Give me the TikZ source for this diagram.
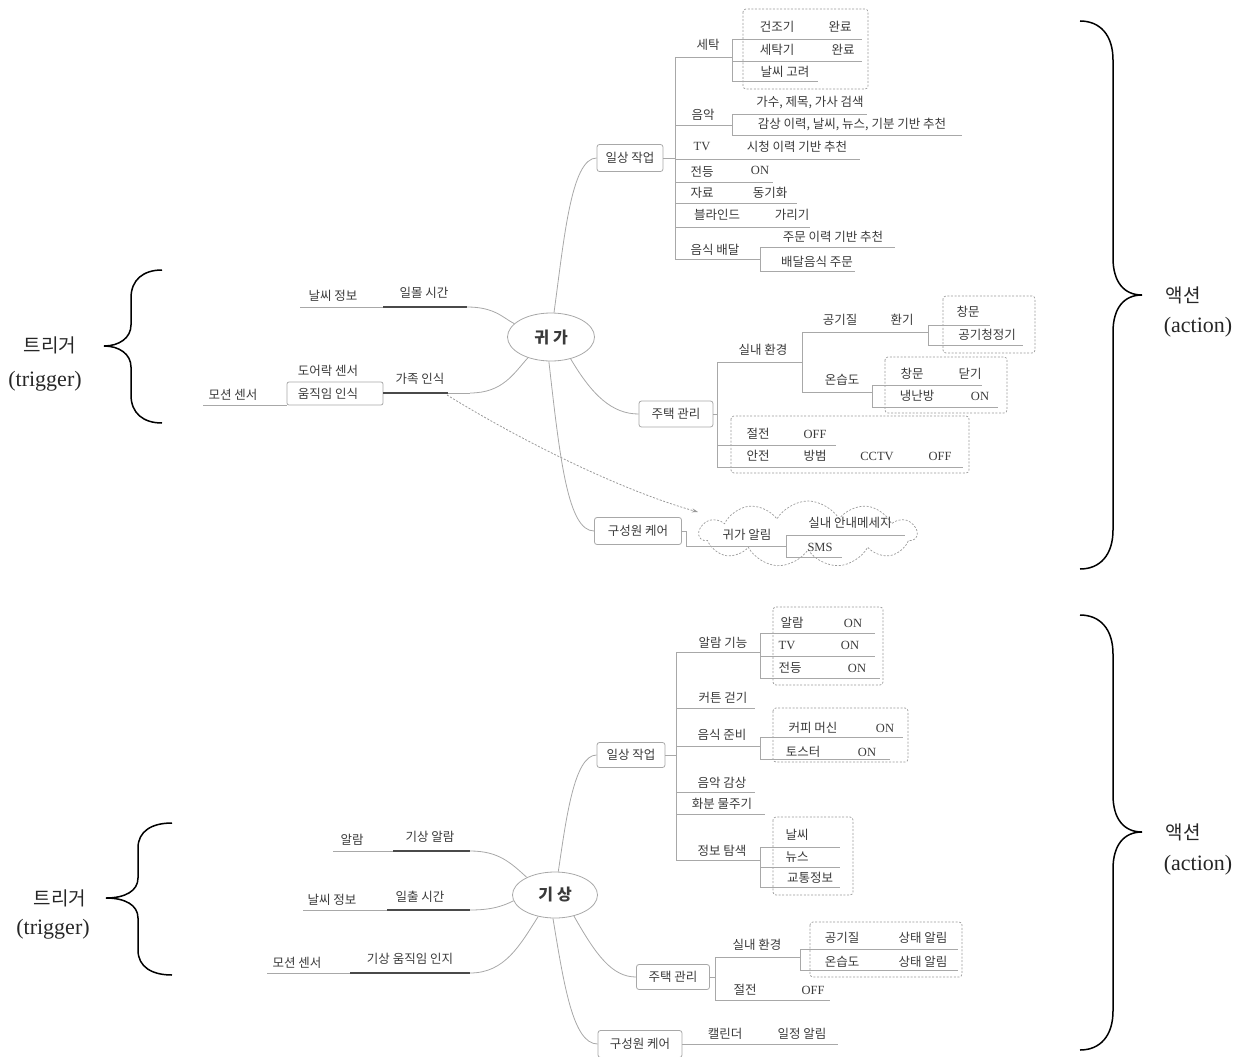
\documentclass[tikz,border=0pt]{standalone}
\usepackage{fontspec}
\setmainfont{Liberation Serif}
\newfontfamily\kr{Noto Sans CJK KR}
\usetikzlibrary{shapes.geometric,shapes.symbols,arrows.meta}
\definecolor{txt}{HTML}{3A3A3A}
\definecolor{lgray}{HTML}{A8A8A8}
\definecolor{dgray}{HTML}{4A4A4A}
\definecolor{dbx}{HTML}{9A9A9A}
\begin{document}
\begin{tikzpicture}[x=1pt,y=-1pt,
  lab/.style={font=\kr\fontsize{12.5}{14}\selectfont, text=txt, inner sep=0pt},
  lat/.style={font=\fontsize{12.5}{14}\selectfont, text=txt, inner sep=0pt},
  ln/.style={draw=lgray, line width=0.8pt},
  dk/.style={draw=dgray, line width=1.6pt},
  bx/.style={draw=lgray, rounded corners=2.5pt, line width=0.8pt, font=\kr\fontsize{12.5}{14}\selectfont, text=txt, inner sep=0pt},
  dbox/.style={draw=dbx, dash pattern=on 2pt off 1.6pt, rounded corners=3pt, line width=0.7pt},
  brace/.style={draw=black, line width=1.5pt},
  big/.style={font=\kr\fontsize{19}{22}\selectfont, text=black!85, inner sep=0pt},
  bigl/.style={font=\fontsize{22}{25}\selectfont, text=black!85, inner sep=0pt},
  hub/.style={draw=lgray, ellipse, line width=0.8pt, font=\kr\bfseries\fontsize{16}{18}\selectfont, text=txt, inner sep=0pt}
]
\useasboundingbox (0,0) rectangle (1242,1057);

% ================= braces =================
\draw[brace] (162,270) .. controls (143,270) and (131,280) .. (131,298) -- (131,325) .. controls (131,338) and (119,346) .. (104,346) .. controls (119,346) and (131,354) .. (131,367) -- (131,395) .. controls (131,413) and (143,423) .. (162,423);
\draw[brace] (172,823) .. controls (152,823) and (138,831) .. (138,848) -- (138,878) .. controls (138,891) and (125,898) .. (106,898) .. controls (125,898) and (138,905) .. (138,918) -- (138,950) .. controls (138,967) and (152,975) .. (172,975);
\draw[brace] (1080,21) .. controls (1100,21) and (1113,35) .. (1113,60) -- (1113,258) .. controls (1113,282) and (1124,295) .. (1142,295) .. controls (1124,295) and (1113,308) .. (1113,332) -- (1113,530) .. controls (1113,555) and (1100,569) .. (1080,569);
\draw[brace] (1080,615) .. controls (1100,615) and (1113,629) .. (1113,654) -- (1113,795) .. controls (1113,819) and (1124,832) .. (1142,832) .. controls (1124,832) and (1113,845) .. (1113,869) -- (1113,1011) .. controls (1113,1036) and (1100,1050) .. (1080,1050);

\node[big] (trA) at (50,345) {트리거};
\node[bigl] (trB) at (45,381) {(trigger)};
\node[big] (trC) at (60,898) {트리거};
\node[bigl] (trD) at (53,929) {(trigger)};
\node[big] (acA) at (1183,295) {액션};
\node[bigl] (acB) at (1198,327) {(action)};
\node[big] (acC) at (1183,832) {액션};
\node[bigl] (acD) at (1198,865) {(action)};

% ================= TOP: 귀가 =================
\node[hub, minimum width=87pt, minimum height=48pt] (g) at (551,337) {귀\hspace{4pt}가};

% triggers
\node[lab] (t1) at (333,296) {날씨 정보};
\node[lab] (t2) at (424,293) {일몰 시간};
\draw[ln] (300,307) -- (467,307);
\draw[dk] (383,307) -- (467,307);
\draw[ln] (467,307) .. controls (495,307) and (503,318) .. (g.160);

\node[lab] (t3) at (328,371) {도어락 센서};
\node[lab] (t4) at (328,394) {움직임 인식};
\draw[ln, rounded corners=2pt] (287,382) rectangle (383,405);
\node[lab] (t5) at (233,395) {모션 센서};
\draw[ln] (203,405) -- (287,405);
\node[lab] (t6) at (420,379) {가족 인식};
\draw[ln] (383,393) -- (470,393);
\draw[dk] (383,393) -- (448,393);
\draw[ln] (470,393) .. controls (503,393) and (514,373) .. (g.222);

% dashed arrow
\coordinate (arS) at (447,395);
\node[cloud, cloud puffs=11, cloud puff arc=120, aspect=3.2, draw=dbx, dash pattern=on 2pt off 1.6pt, line width=0.7pt, minimum width=217pt, minimum height=66pt, inner sep=0pt] (cl) at (808,534) {};
\draw[draw=dbx, dash pattern=on 2pt off 1.6pt, line width=0.8pt, -{Stealth[length=6pt,width=4pt]}] (arS) .. controls (520,440) and (620,490) .. (698,512);

% hubs boxes
\node[bx, minimum width=66pt, minimum height=27pt] (b1) at (630,158) {일상 작업};
\node[bx, minimum width=74pt, minimum height=26pt] (b2) at (676,414) {주택 관리};
\node[bx, minimum width=87pt, minimum height=27pt] (b3) at (638,531) {구성원 케어};
\draw[ln] (g.83) .. controls (564,240) and (571,158) .. (b1.west);
\draw[ln] (g.-48) .. controls (592,395) and (612,414) .. (b2.west);
\draw[ln] (g.-95) .. controls (560,460) and (568,531) .. (b3.west);

% --- 일상 작업 (top)
\draw[ln] (b1.east) -- (675,158);
\draw[ln] (675,57) -- (675,259);
\node[lab] (s1) at (708,45) {세탁};
\draw[ln] (675,57) -- (732,57);
\draw[ln] (732,39) -- (732,81);
\draw[dbox] (743,9) rectangle (868,89);
\node[lab] (s1a) at (777,27) {건조기};
\node[lab] (s1b) at (840,27) {완료};
\draw[ln] (732,39) -- (862,39);
\node[lab] (s1c) at (777,50) {세탁기};
\node[lab] (s1d) at (843,50) {완료};
\draw[ln] (732,61) -- (862,61);
\node[lab] (s1e) at (785,72) {날씨 고려};
\draw[ln] (732,81) -- (818,81);

\node[lab] (s2) at (703,115) {음악};
\draw[ln] (675,125) -- (732,125);
\draw[ln] (732,114) -- (732,135);
\node[lab] (s2a) at (810,103) {가수, 제목, 가사 검색};
\draw[ln] (732,114) -- (867,114);
\node[lab] (s2b) at (852,125) {감상 이력, 날씨, 뉴스, 기분 기반 추천};
\draw[ln] (732,135) -- (962,135);

\node[lat] (s3) at (702,147) {TV};
\node[lab] (s3a) at (797,147) {시청 이력 기반 추천};
\draw[ln] (675,159) -- (860,159);

\node[lab] (s4) at (702,172) {전등};
\node[lat] (s4a) at (760,170) {ON};
\draw[ln] (675,182) -- (773,182);

\node[lab] (s5) at (702,193) {자료};
\node[lab] (s5a) at (770,193) {동기화};
\draw[ln] (675,203) -- (797,203);

\node[lab] (s6) at (717,215) {블라인드};
\node[lab] (s6a) at (792,215) {가리기};
\draw[ln] (675,227) -- (810,227);

\node[lab] (s7) at (715,250) {음식 배달};
\draw[ln] (675,259) -- (760,259);
\draw[ln] (760,247) -- (760,271);
\node[lab] (s7a) at (833,237) {주문 이력 기반 추천};
\draw[ln] (760,247) -- (895,247);
\node[lab] (s7b) at (817,262) {배달음식 주문};
\draw[ln] (760,271) -- (855,271);

% --- 주택 관리 (top)
\draw[ln] (b2.east) -- (717,414);
\draw[ln] (717,362) -- (717,467);
\node[lab] (h1) at (763,350) {실내 환경};
\draw[ln] (717,362) -- (802,362);
\draw[ln] (802,332) -- (802,392);
\node[lab] (h1a) at (840,320) {공기질};
\node[lab] (h1b) at (902,320) {환기};
\draw[ln] (802,332) -- (928,332);
\draw[ln] (928,325) -- (928,345);
\draw[dbox] (943,296) rectangle (1035,353);
\node[lab] (h1c) at (968,312) {창문};
\draw[ln] (928,325) -- (990,325);
\node[lab] (h1d) at (987,335) {공기청정기};
\draw[ln] (928,345) -- (1023,345);

\node[lab] (h2) at (842,380) {온습도};
\draw[ln] (802,392) -- (872,392);
\draw[ln] (872,385) -- (872,407);
\draw[dbox] (885,357) rectangle (1007,413);
\node[lab] (h2a) at (912,374) {창문};
\node[lab] (h2b) at (970,374) {닫기};
\draw[ln] (872,385) -- (982,385);
\node[lab] (h2c) at (917,396) {냉난방};
\node[lat] (h2d) at (980,396) {ON};
\draw[ln] (872,407) -- (998,407);

\draw[dbox] (731,416) rectangle (969,473);
\node[lab] (h3) at (758,434) {절전};
\node[lat] (h3a) at (815,434) {OFF};
\draw[ln] (717,445) -- (836,445);
\node[lab] (h4) at (758,456) {안전};
\node[lab] (h4a) at (815,456) {방범};
\node[lat] (h4b) at (877,456) {CCTV};
\node[lat] (h4c) at (940,456) {OFF};
\draw[ln] (717,467) -- (963,467);

% --- 구성원 케어 (top)
\draw[ln] (b3.east) -- (686,531) -- (686,546) -- (786,546);
\node[lab] (m1) at (747,535) {귀가 알림};
\draw[ln] (786,535) -- (786,557);
\node[lab] (m1a) at (850,523) {실내 안내메세지};
\draw[ln] (786,535) -- (905,535);
\node[lat] (m1b) at (820,547) {SMS};
\draw[ln] (786,557) -- (842,557);

% ================= BOTTOM: 기상 =================
\node[hub, minimum width=85pt, minimum height=46pt] (k) at (555,895) {기\hspace{4pt}상};

\node[lab] (u1) at (352,840) {알람};
\node[lab] (u2) at (430,837) {기상 알람};
\draw[ln] (333,851) -- (470,851);
\draw[dk] (393,851) -- (470,851);
\draw[ln] (470,851) .. controls (498,851) and (510,862) .. (k.148);

\node[lab] (u3) at (332,900) {날씨 정보};
\node[lab] (u4) at (420,897) {일출 시간};
\draw[ln] (303,910) -- (470,910);
\draw[dk] (387,910) -- (470,910);
\draw[ln] (470,910) .. controls (492,910) and (503,906) .. (k.188);

\node[lab] (u5) at (297,963) {모션 센서};
\node[lab] (u6) at (410,959) {기상 움직임 인지};
\draw[ln] (267,973) -- (470,973);
\draw[dk] (350,973) -- (470,973);
\draw[ln] (470,973) .. controls (505,973) and (520,945) .. (k.232);

\node[bx, minimum width=68pt, minimum height=25pt] (c1) at (631,755) {일상 작업};
\node[bx, minimum width=73pt, minimum height=25pt] (c2) at (673,977) {주택 관리};
\node[bx, minimum width=84pt, minimum height=27pt] (c3) at (640,1044) {구성원 케어};
\draw[ln] (k.82) .. controls (566,820) and (574,755) .. (c1.west);
\draw[ln] (k.-48) .. controls (596,955) and (612,977) .. (c2.west);
\draw[ln] (k.-95) .. controls (564,985) and (573,1044) .. (c3.west);

% --- 일상 작업 (bottom)
\draw[ln] (c1.east) -- (676,755);
\draw[ln] (676,652) -- (676,860);
\node[lab] (d1) at (723,643) {알람 기능};
\draw[ln] (676,652) -- (760,652);
\draw[ln] (760,633) -- (760,678);
\draw[dbox] (773,607) rectangle (883,685);
\node[lab] (d1a) at (792,623) {알람};
\node[lat] (d1b) at (853,623) {ON};
\draw[ln] (760,633) -- (875,633);
\node[lat] (d1c) at (787,645) {TV};
\node[lat] (d1d) at (850,645) {ON};
\draw[ln] (760,656) -- (875,656);
\node[lab] (d1e) at (790,668) {전등};
\node[lat] (d1f) at (857,668) {ON};
\draw[ln] (760,678) -- (880,678);

\node[lab] (d2) at (723,698) {커튼 걷기};
\draw[ln] (676,708) -- (755,708);

\node[lab] (d3) at (722,735) {음식 준비};
\draw[ln] (676,746) -- (760,746);
\draw[ln] (760,737) -- (760,759);
\draw[dbox] (773,708) rectangle (908,762);
\node[lab] (d3a) at (813,728) {커피 머신};
\node[lat] (d3b) at (885,728) {ON};
\draw[ln] (760,737) -- (903,737);
\node[lab] (d3c) at (803,752) {토스터};
\node[lat] (d3d) at (867,752) {ON};
\draw[ln] (760,759) -- (890,759);

\node[lab] (d4) at (722,783) {음악 감상};
\draw[ln] (676,792) -- (755,792);
\node[lab] (d5) at (722,804) {화분 물주기};
\draw[ln] (676,814) -- (765,814);

\node[lab] (d6) at (722,851) {정보 탐색};
\draw[ln] (676,860) -- (760,860);
\draw[ln] (760,847) -- (760,887);
\draw[dbox] (773,817) rectangle (853,895);
\node[lab] (d6a) at (797,835) {날씨};
\draw[ln] (760,847) -- (840,847);
\node[lab] (d6b) at (797,857) {뉴스};
\draw[ln] (760,867) -- (840,867);
\node[lab] (d6c) at (810,878) {교통정보};
\draw[ln] (760,887) -- (840,887);

% --- 주택 관리 (bottom)
\draw[ln] (c2.east) -- (715,977);
\draw[ln] (715,957) -- (715,1000);
\node[lab] (e1) at (757,945) {실내 환경};
\draw[ln] (715,957) -- (800,957);
\draw[ln] (800,949) -- (800,970);
\draw[dbox] (810,922) rectangle (962,977);
\node[lab] (e1a) at (842,938) {공기질};
\node[lab] (e1b) at (923,938) {상태 알림};
\draw[ln] (800,949) -- (958,949);
\node[lab] (e1c) at (842,962) {온습도};
\node[lab] (e1d) at (923,962) {상태 알림};
\draw[ln] (800,970) -- (958,970);
\node[lab] (e2) at (745,990) {절전};
\node[lat] (e2a) at (813,990) {OFF};
\draw[ln] (715,1000) -- (830,1000);

% --- 구성원 케어 (bottom)
\draw[ln] (c3.east) -- (838,1044);
\node[lab] (f1) at (725,1034) {캘린더};
\node[lab] (f1a) at (802,1034) {일정 알림};

\end{tikzpicture}
\end{document}
